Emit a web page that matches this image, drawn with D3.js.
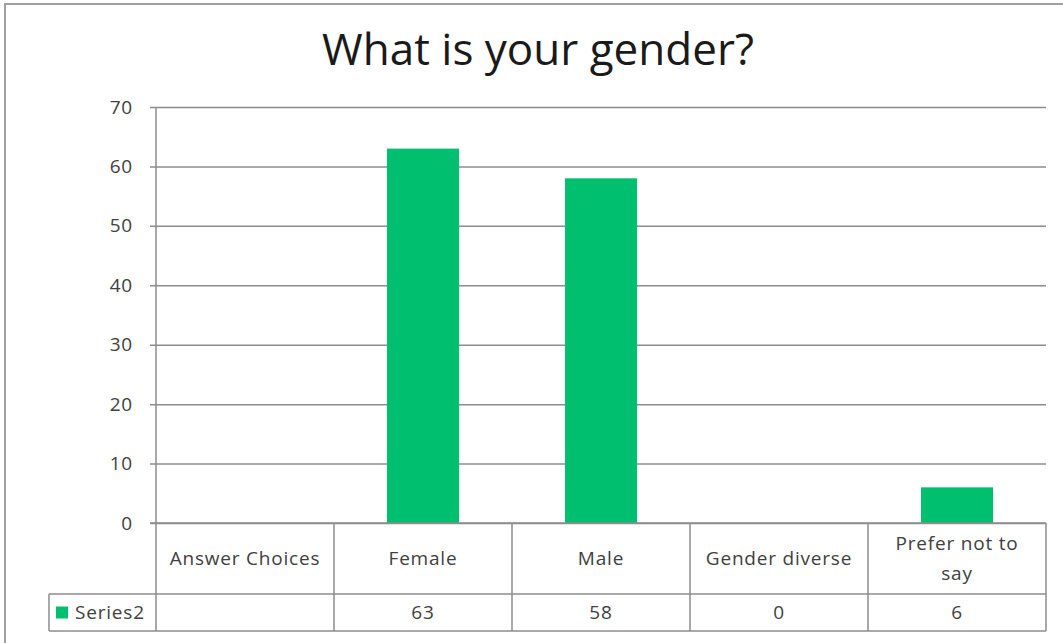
<!DOCTYPE html>
<html>
<head>
<meta charset="utf-8">
<script src="https://cdn.jsdelivr.net/npm/d3@7"></script>
<style>
  html, body { margin: 0; padding: 0; background: #fff; }
  svg { display: block; }
  text { font-family: "Open Sans", "Noto Sans", sans-serif; fill: #404040; }
  .lbl { font-size: 19px; letter-spacing: 0.8px; }
</style>
</head>
<body>
<svg id="chart" width="1063" height="643"></svg>
<script>
// Survey question and answers
const chartTitle = "What is your gender?";
const categories = ["Answer Choices", "Female", "Male", "Gender diverse", "Prefer not to say"];
const seriesName = "Series2";
const seriesValues = [null, 63, 58, 0, 6];
const yTicks = [0, 10, 20, 30, 40, 50, 60, 70];

const svg = d3.select("#chart");
const W = 1063, H = 643;
const gridColor = "#8c8c8c";
const barColor = "#00bf6f";

// chart frame
svg.append("rect")
  .attr("x", 5).attr("y", 4)
  .attr("width", W + 10).attr("height", H + 10)
  .attr("fill", "#fff").attr("stroke", "#a0a0a0").attr("stroke-width", 2);

// plot area
const plot = { left: 156, right: 1046, top: 107, bottom: 523 };
const headerBottom = 594, tableBottom = 631, legendLeft = 49;

const x = d3.scaleBand().domain(categories).range([plot.left, plot.right]).paddingInner(0).paddingOuter(0);
const y = d3.scaleLinear().domain([0, 70]).range([plot.bottom, plot.top]);

// title
svg.append("text")
  .attr("x", 538).attr("y", 65)
  .attr("text-anchor", "middle")
  .style("font-size", "44px").style("fill", "#1a1a1a")
  .text(chartTitle);

// value axis with gridlines
const yAxis = d3.axisLeft(y).tickValues(yTicks).tickSize(-(plot.right - plot.left)).tickPadding(23);
const ga = svg.append("g").attr("transform", `translate(${plot.left},0)`).call(yAxis);
ga.select(".domain").remove();
ga.selectAll(".tick line").attr("stroke", gridColor).attr("stroke-width", 1.5).attr("x1", -6);
ga.selectAll(".tick text").attr("class", "lbl").attr("font-size", null).attr("font-family", null)
  .style("fill", "#404040");

// vertical axis line continuing through the data table
svg.append("line")
  .attr("x1", plot.left).attr("x2", plot.left)
  .attr("y1", plot.top).attr("y2", tableBottom)
  .attr("stroke", gridColor).attr("stroke-width", 1.5);

// bars
const barW = x.bandwidth() * 0.405;
svg.append("g").selectAll("rect")
  .data(categories.map((c, i) => ({ c, v: seriesValues[i] })).filter(d => d.v !== null))
  .join("rect")
  .attr("x", d => x(d.c) + (x.bandwidth() - barW) / 2)
  .attr("width", barW)
  .attr("y", d => y(d.v))
  .attr("height", d => y(0) - y(d.v))
  .attr("fill", barColor);

// redraw the zero line on top of bars
svg.append("line")
  .attr("x1", plot.left - 6).attr("x2", plot.right)
  .attr("y1", y(0)).attr("y2", y(0))
  .attr("stroke", gridColor).attr("stroke-width", 1.5);

// data table
const tbl = svg.append("g").attr("stroke", gridColor).attr("stroke-width", 1.5);
tbl.append("line").attr("x1", legendLeft).attr("x2", plot.right).attr("y1", headerBottom).attr("y2", headerBottom);
tbl.append("line").attr("x1", legendLeft).attr("x2", plot.right).attr("y1", tableBottom).attr("y2", tableBottom);
tbl.append("line").attr("x1", legendLeft).attr("x2", legendLeft).attr("y1", headerBottom).attr("y2", tableBottom);
categories.forEach(c => {
  const xr = x(c) + x.bandwidth();
  tbl.append("line").attr("x1", xr).attr("x2", xr).attr("y1", plot.bottom).attr("y2", tableBottom);
});

// header labels, wrapped where the cell is too narrow
const headerLines = {
  "Prefer not to say": ["Prefer not to", "say"]
};
const headMid = (plot.bottom + headerBottom) / 2;
categories.forEach(c => {
  const lines = headerLines[c] || [c];
  const lh = 30;
  const t = svg.append("text")
    .attr("class", "lbl")
    .attr("text-anchor", "middle");
  lines.forEach((ln, i) => {
    t.append("tspan")
      .attr("x", x(c) + x.bandwidth() / 2)
      .attr("y", headMid + (i - (lines.length - 1) / 2) * lh)
      .attr("dy", "0.35em")
      .text(ln);
  });
});

// series row
const rowMid = (headerBottom + tableBottom) / 2;
categories.forEach((c, i) => {
  if (seriesValues[i] === null) return;
  svg.append("text")
    .attr("class", "lbl")
    .attr("x", x(c) + x.bandwidth() / 2)
    .attr("y", rowMid).attr("dy", "0.35em")
    .attr("text-anchor", "middle")
    .text(seriesValues[i]);
});

// legend key
svg.append("rect")
  .attr("x", 56).attr("y", rowMid - 6)
  .attr("width", 12).attr("height", 12)
  .attr("fill", barColor);
svg.append("text")
  .attr("class", "lbl")
  .attr("x", 75).attr("y", rowMid).attr("dy", "0.35em")
  .text(seriesName);
</script>
</body>
</html>
